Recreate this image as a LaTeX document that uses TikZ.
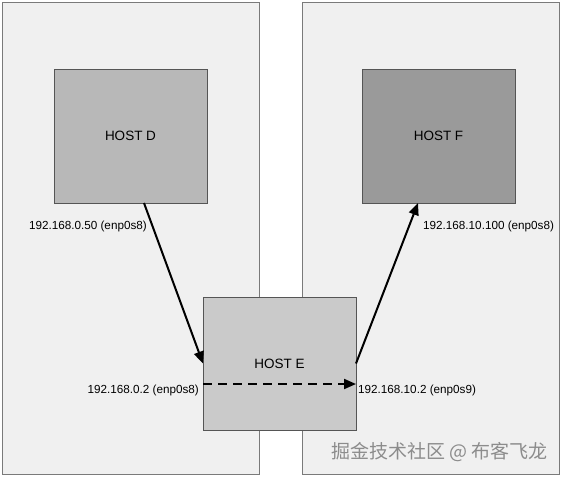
\documentclass[tikz,border=0pt]{standalone}
\usepackage{fontspec}
\setmainfont{Liberation Sans}
\newfontfamily\cjk{Noto Sans CJK SC}
\usetikzlibrary{arrows.meta}
\definecolor{panelfill}{HTML}{F0F0F0}
\definecolor{panelline}{HTML}{7A7A7A}
\definecolor{hostline}{HTML}{555555}
\definecolor{dfill}{HTML}{B8B8B8}
\definecolor{efill}{HTML}{CACACA}
\definecolor{ffill}{HTML}{9A9A9A}
\definecolor{wm}{HTML}{8C8C8C}
\tikzset{
  panel/.style={draw=panelline, line width=0.9pt, fill=panelfill, minimum width=257pt, minimum height=472pt, inner sep=0pt, outer sep=0pt},
  host/.style={draw=hostline, line width=0.9pt, minimum width=153pt, minimum height=134pt, inner sep=0pt, outer sep=0pt, font=\fontsize{13.5}{15}\selectfont},
  iplabel/.style={font=\fontsize{11.7}{13}\selectfont, inner sep=0pt},
  link/.style={line width=2pt, -{Triangle[length=12pt,width=10pt]}},
  dlink/.style={line width=2pt, dash pattern=on 9pt off 6pt, -{Triangle[length=12pt,width=10pt]}}
}
\begin{document}
\begin{tikzpicture}[x=1pt,y=-1pt]
\useasboundingbox (0,0) rectangle (562,477);
\fill[white] (0,0) rectangle (562,477);
\node[panel] (L) at (130.5,238) {};
\node[panel] (R) at (430.5,238) {};
\node[host, fill=dfill] (D) at (130.5,136) {HOST D};
\node[host, fill=ffill] (F) at (438.5,136) {HOST F};
\node[host, fill=efill, minimum height=133pt] (E) at (279.5,363.5) {HOST E};
\coordinate (d1) at ([xshift=13.5pt]D.south);
\coordinate (f1) at ([xshift=-20.5pt]F.south);
\coordinate (e1) at ([yshift=-20.5pt]E.west);
\coordinate (e2) at ([yshift=-20.5pt]E.east);
\draw[link] (d1) -- (E.west);
\draw[link] (E.east) -- (f1);
\draw[dlink] (e1) -- (e2);
\node[iplabel, anchor=east] (l1) at (147,226) {192.168.0.50 (enp0s8)};
\node[iplabel, anchor=west] (l2) at (423,226) {192.168.10.100 (enp0s8)};
\node[iplabel, anchor=east] (l3) at (199,390) {192.168.0.2 (enp0s8)};
\node[iplabel, anchor=west] (l4) at (358,390) {192.168.10.2 (enp0s9)};
\node[anchor=east, inner sep=0pt, text=wm, font=\cjk\fontsize{19}{21}\selectfont] (wmk) at (548,452) {掘金技术社区 @ 布客飞龙};
\end{tikzpicture}
\end{document}
